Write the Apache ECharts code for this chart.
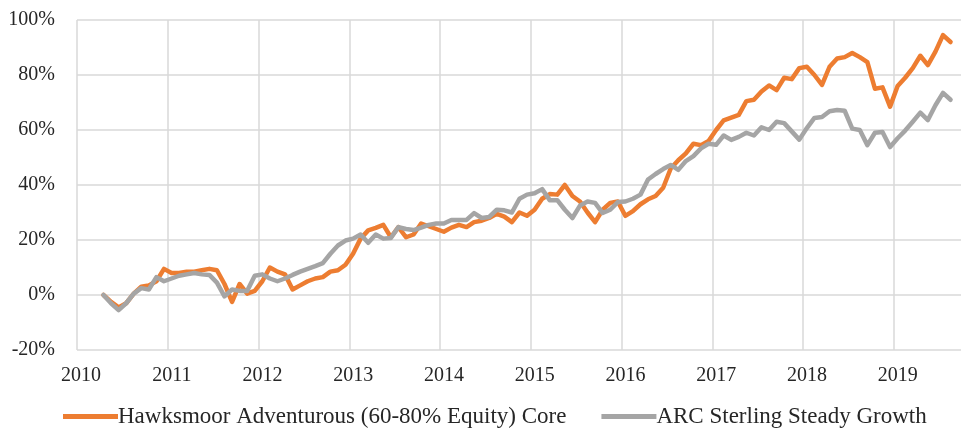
<!DOCTYPE html>
<html style="height: 100%">
<head>
    <meta charset="UTF-8">
    <title>Hawksmoor vs ARC</title>
    <script src="https://cdn.jsdelivr.net/npm/echarts@6/dist/echarts.min.js"></script>
</head>
<body style="height: 100%; margin: 0">
    <div id="main" style="width: 968px; height: 429px"></div>
    <script type="text/javascript">
        // monthly points, Apr 2010 .. Aug 2019
        var startYear = 2010, startMonth = 4;
        var hawksmoor = [
            0, -2.5, -4.5, -3, 0.5, 3, 3.5, 5, 9.5,
            8, 8, 8.5, 8.5, 9, 9.5, 9, 4, -2.5, 4, 0.5, 1.5,
            5, 10, 8.5, 7.5, 2, 3.5, 5, 6, 6.5, 8.5, 9, 11,
            15, 20.5, 23.5, 24.4, 25.5, 21, 24.7, 21, 22, 26, 25, 24,
            23, 24.5, 25.5, 24.7, 26.5, 27, 28, 29.5, 28.5, 26.5, 30, 28.8,
            31, 35, 36.7, 36.5, 40, 36, 34, 30, 26.5, 31, 33.5, 34,
            28.8, 30.5, 33, 34.8, 36, 39, 46, 49, 51.5, 55, 54.5, 56,
            60, 63.5, 64.5, 65.5, 70.5, 71, 74, 76.2, 74.5, 79, 78.5, 82.5,
            83, 80, 76.4, 83, 86, 86.5, 88, 86.5, 84.7, 75, 75.5, 68.5,
            76, 79, 82.5, 87, 83.6, 88.5, 94.5, 92
        ];
        var arc = [
            0, -3, -5.5, -3, 0.5, 2.5, 2, 6.5, 5,
            6, 7, 7.5, 8, 7.5, 7.3, 4.5, -0.5, 2, 1.5, 1.5, 7,
            7.5, 6, 5, 6, 7.3, 8.5, 9.5, 10.5, 11.6, 15, 18, 19.8,
            20.5, 22, 19, 22, 20.5, 20.7, 24.7, 24, 23.6, 24.5, 25.5, 26,
            26, 27.3, 27.3, 27.3, 29.8, 28, 28.4, 31, 30.8, 30, 35, 36.5,
            37, 38.5, 34.5, 34.5, 31, 28, 32.5, 34, 33.5, 29.8, 31, 33.8,
            34, 35, 36.5, 42, 44, 45.8, 47.3, 45.5, 48.7, 50.5, 53.3, 55,
            54.6, 58, 56.4, 57.5, 59, 58, 61, 60, 63, 62.5, 59.5, 56.5,
            60.7, 64.4, 64.7, 66.8, 67.3, 67, 60.5, 60, 54.5, 59, 59.3, 53.8,
            57, 59.8, 63, 66.3, 63.6, 69, 73.5, 71
        ];
        var yearTicks = [2010, 2011, 2012, 2013, 2014, 2015, 2016, 2017, 2018, 2019];

        // decimal year at mid-month for each point
        function toPairs(values) {
            return values.map(function (v, i) {
                var m = startMonth - 1 + i;
                var year = startYear + Math.floor(m / 12) + ((m % 12) + 0.5) / 12;
                return [year, v];
            });
        }

        var font = "'Liberation Serif', 'DejaVu Serif', serif";
        var myChart = echarts.init(document.getElementById('main'));

        myChart.setOption({
            animation: false,
            textStyle: {fontFamily: font},
            grid: {left: 77, right: 7, top: 20, bottom: 79},
            legend: {
                left: 58,
                top: 400,
                itemWidth: 55,
                itemHeight: 5,
                itemGap: 35,
                icon: 'rect',
                textStyle: {fontFamily: font, fontSize: 23, color: '#262626', padding: [0, 0, 0, -5]},
                data: ['Hawksmoor Adventurous (60-80% Equity) Core', 'ARC Sterling Steady Growth']
            },
            xAxis: {
                type: 'value',
                min: yearTicks[0],
                max: 2019.74,
                interval: 1,
                axisLine: {show: false},
                axisTick: {show: false},
                splitLine: {show: true, showMaxLine: false, lineStyle: {color: '#d9d9d9', width: 1.5}},
                axisLabel: {
                    fontFamily: font,
                    fontSize: 20,
                    color: '#262626',
                    margin: 16,
                    padding: [0, 0, 0, 8],
                    showMaxLabel: false,
                    formatter: function (v) {
                        return yearTicks.indexOf(v) >= 0 ? String(v) : '';
                    }
                }
            },
            yAxis: {
                type: 'value',
                min: -20,
                max: 100,
                interval: 20,
                axisLine: {show: false},
                axisTick: {show: false},
                splitLine: {lineStyle: {color: '#d9d9d9', width: 1.5}},
                axisLabel: {
                    fontFamily: font,
                    fontSize: 20,
                    color: '#262626',
                    margin: 22,
                    formatter: '{value}%'
                }
            },
            series: [
                {
                    name: 'Hawksmoor Adventurous (60-80% Equity) Core',
                    type: 'line',
                    showSymbol: false,
                    lineStyle: {color: '#ed7d31', width: 4.5, join: 'round', cap: 'round'},
                    itemStyle: {color: '#ed7d31'},
                    data: toPairs(hawksmoor)
                },
                {
                    name: 'ARC Sterling Steady Growth',
                    type: 'line',
                    showSymbol: false,
                    lineStyle: {color: '#a5a5a5', width: 4.5, join: 'round', cap: 'round'},
                    itemStyle: {color: '#a5a5a5'},
                    data: toPairs(arc)
                }
            ]
        });
    </script>
</body>
</html>
